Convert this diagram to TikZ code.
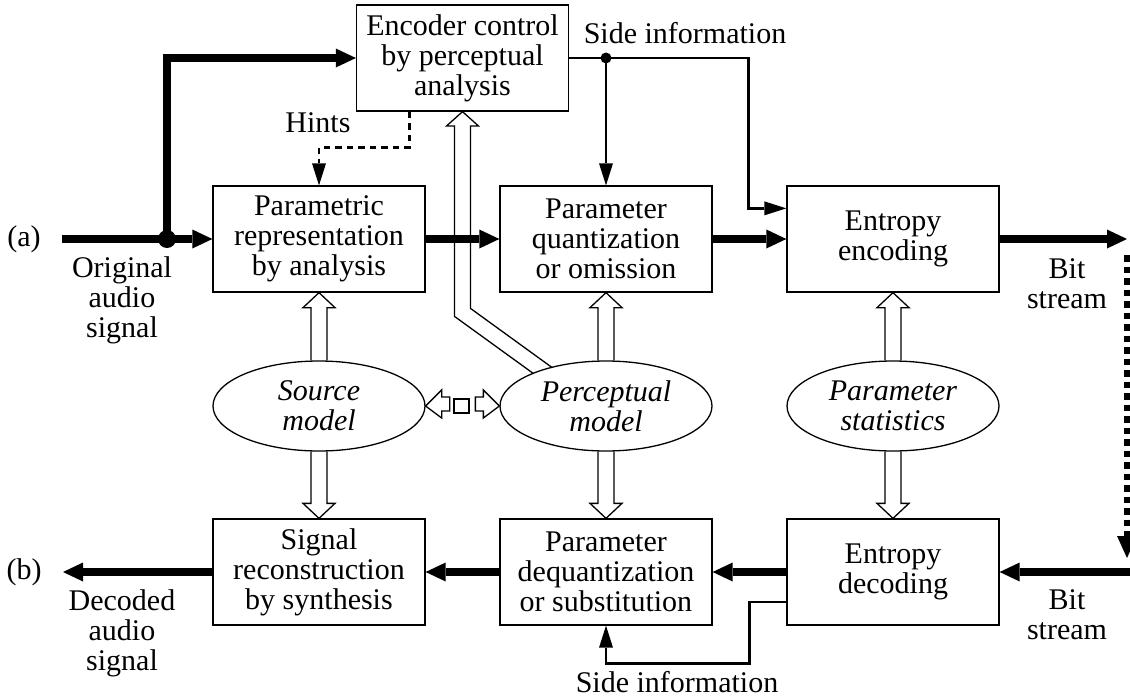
\documentclass[tikz,border=0pt]{standalone}
\usepackage{fontspec}
\setmainfont{Liberation Serif}
\usetikzlibrary{arrows.meta,calc,shapes.geometric}

% vertical hollow (double-outline) arrow from #1 to the tip #2
\newcommand{\hollowvert}[2]{%
  \draw[hollow] let \p1=(#1), \p2=(#2), \n1={ifthenelse(\y2>\y1,15,-15)} in
    (\x1-8pt,\y1) -- (\x1-8pt,{\y2-\n1*1pt}) -- (\x1-16pt,{\y2-\n1*1pt}) -- (\x1,\y2)
    -- (\x1+16pt,{\y2-\n1*1pt}) -- (\x1+8pt,{\y2-\n1*1pt}) -- (\x1+8pt,\y1);}

\begin{document}
\begin{tikzpicture}[x=1pt,y=-1pt,
  every node/.style={font=\fontsize{30}{30}\selectfont, align=center, inner sep=0pt},
  blk/.style={draw, line width=1.3pt, minimum width=212pt, minimum height=106pt},
  mdl/.style={ellipse, draw, line width=1.3pt, minimum width=212pt, minimum height=90pt,
    font=\fontsize{30}{30}\selectfont\itshape},
  hollow/.style={draw, line width=1.3pt, line join=miter},
  bigarrow/.style={line width=7.5pt, line join=miter,
    -{Triangle[length=20pt,width=19pt,line width=0pt]}},
  thinarrow/.style={line width=2.4pt, line join=miter,
    -{Triangle[length=22pt,width=14pt,line width=0pt]}},
  hintarrow/.style={thinarrow, dash pattern=on 6.5pt off 5pt},
  dotarrow/.style={line width=6.5pt, dash pattern=on 6.5pt off 5pt,
    -{Triangle[length=22pt,width=20pt,line width=0pt]}},
]
\useasboundingbox (0,0) rectangle (1130,699);

% processing blocks
\node[blk] (enc) at (462.5,58) {Encoder control\\by perceptual\\analysis};
\node[blk] (par) at (319,239) {Parametric\\representation\\by analysis};
\node[blk] (qua) at (606,239) {Parameter\\quantization\\or omission};
\node[blk] (een) at (893,239) {Entropy\\encoding};
\node[blk] (syn) at (319,572) {Signal\\reconstruction\\by synthesis};
\node[blk] (deq) at (606,572) {Parameter\\dequantization\\or substitution};
\node[blk] (edc) at (893,572) {Entropy\\decoding};

% models
\node[mdl] (src) at (319,406) {Source\\model};
\node[mdl] (pm)  at (606,406) {Perceptual\\model};
\node[mdl] (st)  at (893,406) {Parameter\\statistics};

% labels
\node (la) at (24,239) {(a)};
\node (lb) at (24,572) {(b)};
\node (orig) at (122,300) {Original\\audio\\signal};
\node (deco) at (122,633) {Decoded\\audio\\signal};
\node (hints) at (318,123) {Hints};
\node (sidetop) at (685,33) {Side information};
\node (sidebot) at (677,682) {Side information};
\node (bsa) at (1067,284) {Bit\\stream};
\node (bsb) at (1067,615) {Bit\\stream};

% free ends
\coordinate (ain) at (62,239);
\coordinate (junc) at (167,239);
\coordinate (aout) at (63,572);
\coordinate (bout) at (1127,239);
\coordinate (bin) at (1131,572);
\coordinate (dtop) at (1127,255);
\coordinate (dbot) at (1127,558);
\coordinate (si) at (606,58);

% hollow model arrows
\hollowvert{src.north}{par.south}
\hollowvert{src.south}{syn.north}
\hollowvert{pm.north}{qua.south}
\hollowvert{pm.south}{deq.north}
\hollowvert{st.north}{een.south}
\hollowvert{st.south}{edc.north}

% perceptual model feeding the encoder control
\draw[hollow] (533.5,373.6) -- (454.5,316.4) -- (454.5,126) -- (446.5,126) -- (enc.south)
  -- (478.5,126) -- (470.5,126) -- (470.5,308.4) -- (552.3,367.7);

% source model <-> perceptual model
\draw[hollow] (src.east) -- ++(16,-16) -- ++(0,7) -- ++(8,0) -- ++(0,14) -- ++(-8,0) -- ++(0,7) -- cycle;
\draw[hollow] (454,399) rectangle (469,413);
\draw[hollow] (pm.west) -- ++(-16,-16) -- ++(0,7) -- ++(-8,0) -- ++(0,14) -- ++(8,0) -- ++(0,7) -- cycle;

% signal path, encoder
\draw[bigarrow] (ain) -- (par.west);
\draw[bigarrow] (junc) |- (enc.west);
\fill (junc) circle[radius=9pt];
\draw[bigarrow] (par.east) -- (qua.west);
\draw[bigarrow] (qua.east) -- (een.west);
\draw[bigarrow] (een.east) -- (bout);

% transmission
\draw[dotarrow] (dtop) -- (dbot);

% signal path, decoder
\draw[bigarrow] (bin) -- (edc.east);
\draw[bigarrow] (edc.west) -- (deq.east);
\draw[bigarrow] (deq.west) -- (syn.east);
\draw[bigarrow] (syn.west) -- (aout);

% side information
\draw[thinarrow] (enc.east) -| ($(een.north west)+(-38,23)$) -- ($(een.north west)+(0,23)$);
\draw[thinarrow] (si) -- (qua.north);
\fill (si) circle[radius=5.5pt];
\draw[thinarrow] ($(edc.west)+(0,30)$) -- ++(-37,0) |- ($(deq.south)+(0,38)$) -- (deq.south);

% hints
\draw[hintarrow] ($(enc.south)+(-53,0)$) |- ($(par.north)+(0,-38)$) -- (par.north);
\end{tikzpicture}
\end{document}
